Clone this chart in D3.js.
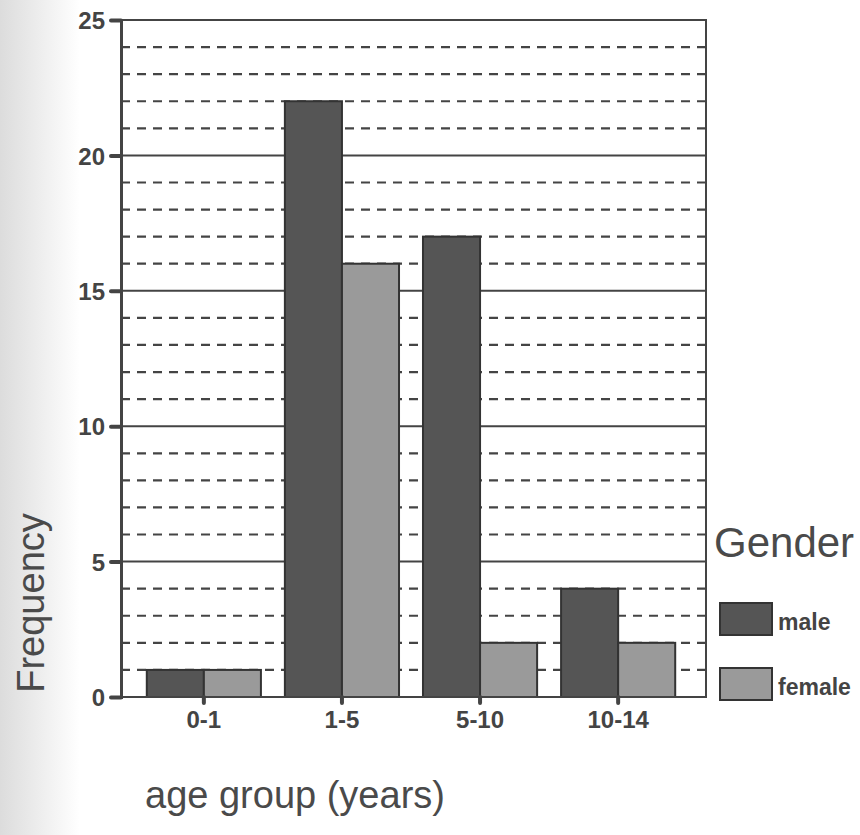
<!DOCTYPE html>
<html><head><meta charset="utf-8">
<script src="https://cdn.jsdelivr.net/npm/d3@7"></script>
<style>html,body{margin:0;padding:0;background:#fff}svg{display:block}</style>
</head><body>
<script>
const categories = ["0-1", "1-5", "5-10", "10-14"];
const seriesNames = ["male", "female"];
const maleValues = [1, 22, 17, 4];
const femaleValues = [1, 16, 2, 2];
const yTicks = [0, 5, 10, 15, 20, 25];
const yMinor = d3.range(0, 26);

(function () {
const W = 860, H = 835;
const svg = d3.select("body").append("svg").attr("width", W).attr("height", H);

const defs = svg.append("defs");
const lg = defs.append("linearGradient").attr("id", "shade").attr("x1", 0).attr("x2", 1).attr("y1", 0).attr("y2", 0);
lg.append("stop").attr("offset", 0).attr("stop-color", "#dcdcdc");
lg.append("stop").attr("offset", 1).attr("stop-color", "#ffffff");
svg.append("rect").attr("width", W).attr("height", H).attr("fill", "#fff");
svg.append("rect").attr("width", 80).attr("height", H).attr("fill", "url(#shade)");

const pL = 121, pR = 706, pT = 20, pB = 697;
const x = d3.scaleBand().domain(categories).range([pL, pR - 5]).paddingInner(0).paddingOuter(0.1);
const sub = d3.scaleBand().domain(seriesNames).range([0, x.bandwidth()]).paddingOuter(0.21).paddingInner(0);
const y = d3.scaleLinear().domain([0, 25]).range([pB, pT]);
const color = d3.scaleOrdinal().domain(seriesNames).range(["#555555", "#9a9a9a"]);
const values = {male: maleValues, female: femaleValues};
const ink = "#444";
const font = "Liberation Sans, Arial, sans-serif";

svg.append("g").selectAll("line").data(yMinor.filter(v => v % 5 !== 0)).join("line")
  .attr("x1", pL).attr("x2", pR).attr("y1", d => y(d)).attr("y2", d => y(d))
  .attr("stroke", ink).attr("stroke-width", 2.2).attr("stroke-dasharray", "9,7");
svg.append("g").selectAll("line").data(yTicks.filter(v => v > 0 && v < 25)).join("line")
  .attr("x1", pL).attr("x2", pR).attr("y1", d => y(d)).attr("y2", d => y(d))
  .attr("stroke", ink).attr("stroke-width", 2);

const rows = categories.map((c, i) => seriesNames.map(s => ({c, s, v: values[s][i]}))).flat();
svg.append("g").selectAll("rect").data(rows).join("rect")
  .attr("x", d => x(d.c) + sub(d.s)).attr("width", sub.bandwidth())
  .attr("y", d => y(d.v)).attr("height", d => y(0) - y(d.v))
  .attr("fill", d => color(d.s)).attr("stroke", "#333").attr("stroke-width", 2);

svg.append("rect").attr("x", pL).attr("y", pT).attr("width", pR - pL).attr("height", pB - pT)
  .attr("fill", "none").attr("stroke", ink).attr("stroke-width", 2);

const yAxis = svg.append("g").attr("transform", `translate(${pL},0)`)
  .call(d3.axisLeft(y).tickValues(yTicks).tickSize(10).tickPadding(6));
yAxis.select(".domain").attr("stroke", ink).attr("stroke-width", 3);
yAxis.selectAll(".tick line").attr("stroke", ink).attr("stroke-width", 4).attr("stroke-linecap", "round");
yAxis.selectAll(".tick text").attr("fill", ink).attr("font-family", font)
  .attr("font-weight", "bold").attr("font-size", 24).attr("dy", "0.36em");

const xAxis = svg.append("g").attr("transform", `translate(0,${pB})`)
  .call(d3.axisBottom(x).tickSize(6).tickPadding(8));
xAxis.select(".domain").remove();
xAxis.selectAll(".tick line").attr("stroke", ink).attr("stroke-width", 4).attr("stroke-linecap", "round");
xAxis.selectAll(".tick text").attr("fill", ink).attr("font-family", font)
  .attr("font-weight", "bold").attr("font-size", 24).attr("dy", "0.72em");

svg.append("text").attr("transform", "translate(44,603) rotate(-90)").attr("text-anchor", "middle")
  .attr("font-family", font).attr("font-size", 38).attr("fill", "#4a4a4a")
  .text("Frequency");
svg.append("text").attr("x", 145).attr("y", 808)
  .attr("font-family", font).attr("font-size", 38).attr("fill", "#4a4a4a")
  .text("age group (years)");

svg.append("text").attr("x", 714).attr("y", 557)
  .attr("font-family", font).attr("font-size", 42).attr("fill", "#4a4a4a")
  .text("Gender");
const leg = svg.append("g").selectAll("g").data(seriesNames).join("g")
  .attr("transform", (d, i) => `translate(720,${603 + i * 65})`);
leg.append("rect").attr("width", 52).attr("height", 32).attr("fill", d => color(d)).attr("stroke", "#333").attr("stroke-width", 2);
leg.append("text").attr("x", 58).attr("y", 27)
  .attr("font-family", font).attr("font-weight", "bold").attr("font-size", 23)
  .attr("fill", ink).text(d => d);
})();
</script>
</body></html>
